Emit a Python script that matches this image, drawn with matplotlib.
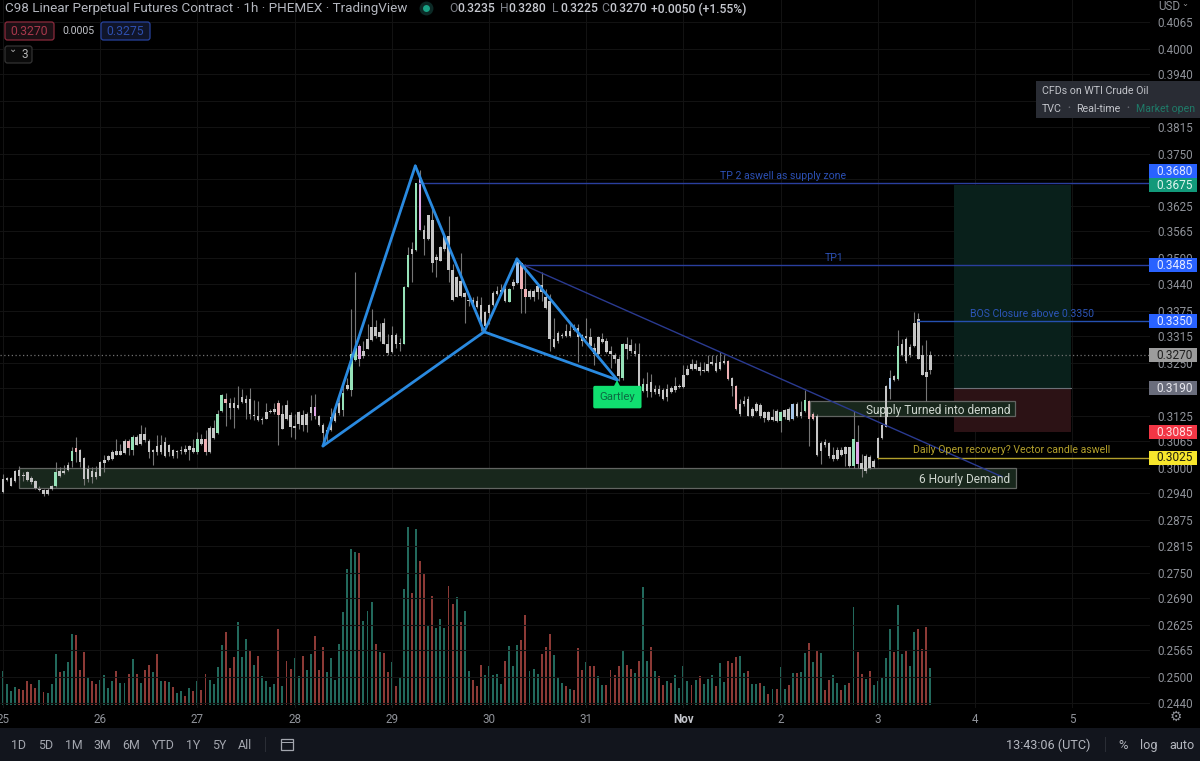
import matplotlib
matplotlib.use("Agg")
import matplotlib.pyplot as plt
from matplotlib.patches import Rectangle, FancyBboxPatch
from matplotlib.transforms import IdentityTransform
import numpy as np

plt.rcParams['font.family'] = ['Roboto', 'DejaVu Sans']

TICK = 0.0001  # candle values below are quoted in price ticks

body_top = [
 2974,2976,2976,2994,2996,2984,2990,2976,2970,2950, 2948,2948,2958,2990,2994,2994,3008,3040,3048,3042,
 3024,2998,2994,2990,3014,3020,3028,3038,3040,3040, 3064,3064,3074,3074,3080,3080,3064,3044,3052,3054,
 3062,3054,3044,3041,3044,3045,3053,3048,3070,3070, 3070,3096,3096,3128,3174,3164,3155,3154,3150,3170,
 3164,3164,3126,3124,3118,3134,3137,3140,3156,3130, 3150,3126,3100,3134,3126,3128,3146,3146,3124,3103,
 3091,3121,3131,3155,3179,3197,3271,3287,3291,3279, 3307,3337,3337,3325,3347,3297,3317,3317,3299,3433,
 3509,3523,3679,3689,3567,3603,3593,3503,3527,3553, 3553,3473,3457,3447,3417,3401,3401,3399,3389,3373,
 3389,3417,3423,3425,3427,3427,3445,3491,3489,3427, 3423,3423,3435,3437,3407,3399,3307,3323,3317,3327,
 3327,3335,3333,3317,3314,3313,3287,3313,3307,3303, 3279,3269,3261,3297,3297,3293,3279,3271,3201,3201,
 3205,3189,3189,3187,3189,3191,3195,3196,3223,3237, 3249,3249,3241,3235,3249,3252,3251,3253,3255,3255,
 3215,3195,3153,3161,3165,3141,3153,3151,3133,3133, 3121,3137,3133,3139,3141,3153,3153,3133,3163,3161,
 3129,3125,3059,3063,3059,3031,3043,3043,3049,3049, 3069,3063,3013,3029,3027,3017,3071,3103,3195,3215,
 3219,3291,3297,3309,3289,3345,3355,3269,3229,3270]
body_bot = [
 2942,2972,2958,2968,2982,2980,2972,2966,2952,2948, 2938,2938,2950,2956,2982,2988,2996,3016,3038,3014,
 2974,2974,2978,2978,2982,3012,3020,3022,3032,3032, 3036,3048,3042,3056,3058,3068,3038,3038,3038,3038,
 3028,3038,3028,3038,3040,3038,3042,3038,3038,3058, 3038,3038,3072,3084,3136,3154,3144,3144,3144,3158,
 3154,3128,3124,3114,3114,3118,3134,3134,3126,3094, 3116,3098,3096,3106,3102,3102,3132,3124,3102,3083,
 3085,3091,3113,3131,3139,3189,3185,3257,3261,3267, 3285,3305,3315,3313,3297,3275,3277,3297,3295,3297,
 3433,3511,3521,3569,3547,3547,3489,3497,3495,3523, 3473,3401,3409,3411,3407,3399,3389,3385,3343,3339,
 3369,3389,3415,3421,3399,3397,3435,3441,3427,3409, 3409,3409,3421,3419,3381,3307,3289,3303,3314,3315,
 3315,3329,3313,3303,3311,3291,3271,3271,3301,3277, 3271,3259,3219,3215,3283,3279,3271,3189,3183,3183,
 3181,3181,3177,3165,3169,3181,3185,3193,3193,3223, 3237,3237,3231,3231,3231,3249,3231,3237,3251,3213,
 3195,3141,3129,3153,3125,3125,3137,3123,3119,3115, 3115,3113,3113,3121,3115,3117,3125,3123,3137,3117,
 3117,3031,3041,3055,3029,3021,3021,3031,3033,3005, 3005,3009,2997,2993,3001,3003,3023,3071,3099,3189,
 3209,3213,3269,3255,3269,3291,3261,3223,3217,3235]
high = [
 2986,2978,2978,2996,3004,2990,2994,2982,2972,2958, 2950,2952,2960,3014,3002,3006,3014,3050,3074,3046,
 3026,3006,3002,3004,3016,3030,3030,3042,3070,3058, 3070,3070,3078,3078,3102,3098,3070,3046,3078,3078,
 3074,3058,3046,3042,3052,3054,3054,3070,3086,3082, 3090,3100,3114,3138,3176,3180,3166,3170,3196,3188,
 3174,3190,3162,3160,3122,3154,3140,3154,3162,3150, 3162,3134,3130,3136,3138,3134,3174,3176,3126,3107,
 3099,3143,3143,3171,3207,3215,3379,3467,3295,3303, 3343,3379,3353,3347,3359,3319,3339,3323,3311,3435,
 3527,3539,3681,3711,3579,3605,3627,3511,3529,3555, 3601,3487,3459,3513,3419,3407,3407,3411,3407,3375,
 3391,3423,3435,3439,3443,3429,3451,3493,3491,3487, 3427,3427,3439,3467,3427,3415,3359,3327,3323,3343,
 3343,3343,3343,3319,3359,3335,3299,3315,3323,3311, 3291,3275,3267,3299,3313,3307,3299,3299,3215,3229,
 3225,3197,3197,3191,3201,3195,3217,3201,3245,3245, 3261,3257,3253,3253,3269,3269,3269,3277,3269,3257,
 3217,3197,3165,3173,3173,3145,3157,3155,3137,3137, 3141,3141,3137,3141,3145,3155,3157,3161,3187,3163,
 3133,3129,3065,3069,3061,3049,3049,3049,3053,3051, 3137,3103,3033,3033,3031,3021,3073,3105,3197,3233,
 3221,3329,3309,3313,3297,3373,3369,3293,3305,3280]
low = [
 2940,2970,2956,2966,2972,2970,2970,2962,2950,2944, 2934,2936,2948,2954,2978,2986,2994,3002,3014,3002,
 2960,2966,2964,2974,2980,2990,3016,3018,3030,3030, 3034,3030,3030,3054,3054,3062,3024,3006,3030,3034,
 3026,3028,3024,3024,3034,3034,3020,3036,3034,3054, 3030,3035,3070,3082,3134,3100,3118,3096,3142,3154,
 3116,3118,3114,3112,3106,3116,3132,3130,3054,3092, 3114,3074,3070,3094,3088,3086,3114,3118,3100,3055,
 3063,3089,3109,3127,3123,3187,3171,3255,3243,3263, 3283,3303,3311,3303,3295,3269,3275,3287,3279,3295,
 3431,3443,3519,3567,3509,3545,3467,3455,3493,3519, 3443,3399,3407,3407,3347,3387,3383,3383,3327,3335,
 3343,3387,3413,3413,3397,3395,3427,3439,3369,3369, 3403,3399,3403,3399,3379,3279,3287,3299,3311,3313,
 3313,3327,3253,3291,3307,3287,3247,3267,3299,3275, 3239,3251,3207,3211,3259,3275,3267,3187,3181,3169,
 3169,3177,3173,3163,3161,3179,3181,3191,3191,3221, 3235,3233,3221,3229,3229,3245,3229,3235,3249,3211,
 3173,3139,3125,3149,3123,3121,3133,3119,3109,3111, 3111,3109,3087,3117,3111,3115,3121,3119,3133,3053,
 3115,3029,3009,3049,3025,3017,3019,3029,3005,3003, 3001,3001,2979,2989,2997,3001,3021,3069,3097,3165,
 3207,3211,3267,3251,3265,3289,3259,3221,3161,3225]
volume = [
 101,62,42,55,47,44,73,62,51,76, 40,36,64,153,98,101,130,213,209,105,
 160,82,71,62,75,91,52,71,101,66, 66,94,138,94,67,105,120,98,153,71,
 71,68,54,35,41,27,50,42,71,45, 94,75,62,115,180,219,111,143,249,143,
 199,165,120,148,86,71,54,64,227,57, 133,109,140,88,148,105,153,207,105,175,
 98,140,76,182,278,407,468,459,456,251, 281,308,182,160,157,100,130,57,83,347,
 533,335,528,432,395,240,327,230,259,232, 357,303,325,249,283,103,74,58,121,91,
 116,91,94,64,133,177,118,180,194,269, 103,107,94,153,174,212,150,83,66,57,
 47,44,170,105,130,118,116,88,60,59, 105,91,118,163,120,108,96,133,355,133,
 173,103,88,59,73,66,91,52,116,73, 59,75,86,64,78,91,57,127,69,131,
 127,143,148,96,101,64,64,66,57,32, 47,47,113,49,59,96,96,98,155,185,
 130,163,155,44,74,91,66,44,59,67, 294,158,94,78,101,59,71,84,140,227,
 160,299,153,163,116,219,227,168,235,111]
volume_dir = ("ggggrrrrrg" "rgggrgggrr" "rgrrggggrg" "grgrgrrgrg" "rgrggrgrgr" "rggggrrrgg"
              "grgrggggrg" "rrggrggrrr" "ggggggggrg" "ggrgrrgrgg" "grgrrgrggg" "rrgrggrrrg"
              "ggggrgggrr" "gggrrrgggr" "grrrgrrggr" "rrrgrrgrgg" "rgrrgrgggg" "rgrgggrggr"
              "rrggrggrgr" "grggrgrggr" "grgrrggrgr" "grrgrggggg" "rggrggrrrg")

green_candles = [13,17,32,48,53,54,84,86,87,99,100,102,125,153,158,192,198,210,221]
pink_candles = [18,31,50,55,68,128,129,179,181,199,200]
violet_candles = [77,88,103,211]
blue_candles = [127,195,219]

price_ticks = [0.4065,0.4000,0.3940,0.3875,0.3815,0.3750,0.3690,0.3625,0.3565,0.3500,0.3440,
               0.3375,0.3315,0.3250,0.3190,0.3125,0.3065,0.3000,0.2940,0.2875,0.2815,0.2750,
               0.2690,0.2625,0.2565,0.2500,0.2440]
day_labels = ['25','26','27','28','29','30','31','Nov','2','3','4','5']
day_hours = [0,24,48,72,96,120,144,168,192,216,240,264]

# harmonic pattern pivots
pattern_hours = [79.0,101.8,118.8,126.9,151.7]
pattern_prices = [0.30525,0.3721,0.3325,0.3499,0.3210]
trend_hours = [128.4,246.7]
trend_prices = [0.3485,0.2979]

levels = [0.3680,0.3485,0.3350,0.3025]
level_starts = [102.8,128.5,226,216]
level_colors = ['#2a3f9e','#2a3f9e','#2550b0','#b3a02c']
level_notes = ['TP 2 aswell as supply zone','TP1','BOS Closure above 0.3350','Daily Open recovery? Vector candle aswell']
note_hours = [192.6,205.3,254.1,249.0]
note_colors = ['#2c50b4','#2c50b4','#2c55b8','#b3a02c']

demand_zone = (4,250,0.2952,0.3000)
supply_zone = (199.3,250,0.3124,0.3160)
entry, target, stop = 0.3190,0.3675,0.3085
pos_hours = (234.8,263.6)

tag_prices = [0.3680,0.3675,0.3485,0.3350,0.3270,0.3190,0.3085,0.3025]
tag_bg = ['#2962ff','#12997a','#2962ff','#2962ff','#9c9c9c','#6a6d7c','#f23645','#f7e62c']
tag_fg = ['#dfe6ff','#dff5ee','#e4eaff','#e4eaff','#202020','#e8e8ee','#ffdfe2','#202010']
tag_shift = [12,0,0,0,0,0,0,0]

W, H = 1200, 761
fig = plt.figure(figsize=(W/100, H/100), dpi=100, facecolor='#000000')
rect = [0, 1-708/H, 1150/W, 708/H]
xlim = (-3/4.05, 1147/4.05)
volax = fig.add_axes(rect, zorder=1, facecolor='#000000')
ax = fig.add_axes(rect, zorder=2, facecolor='none')
ax.set_xlim(*xlim)
ax.set_ylim(0.3-240/4190, 0.3+468/4190)
volax.set_xlim(*xlim)
volax.set_ylim(-9, 2115)
volax.axis('off')

for s in ax.spines.values():
    s.set_visible(False)
ax.set_axisbelow(True)
ax.yaxis.tick_right()
ax.set_yticks(price_ticks, [f'{p:.4f}' for p in price_ticks])
ax.set_xticks(day_hours, day_labels)
ax.tick_params(axis='both', length=0, colors='#8f9299', labelsize=8.4)
ax.tick_params(axis='y', pad=5)
ax.tick_params(axis='x', pad=3.5, labelsize=8.4)
for lab in ax.get_xticklabels():
    if lab.get_text() == 'Nov':
        lab.set_color('#c4c6cc')
        lab.set_fontweight('bold')
ax.grid(True, color='#121212', lw=0.8)

hours = np.arange(len(volume))
vcol = ['#22695c' if d == 'g' else '#8c3a36' for d in volume_dir]
volax.bar(hours, volume, width=0.47, color=vcol, linewidth=0)

# zones
GREENZ = '#18271c'
for (x0, x1, lo, hi), txt in ((demand_zone, '6 Hourly Demand'), (supply_zone, 'Supply Turned into demand')):
    ax.add_patch(Rectangle((x0, lo), x1-x0, hi-lo, fc=GREENZ, ec='#626562', lw=0.9, zorder=1.2))
    ax.text(x1-1.3, (lo+hi)/2, txt, color='#cfd6cf', fontsize=8.6, ha='right', va='center_baseline', zorder=6)

# position box
ax.add_patch(Rectangle((pos_hours[0], entry), pos_hours[1]-pos_hours[0], target-entry, fc='#09201b', ec='none', zorder=1))
ax.add_patch(Rectangle((pos_hours[0], stop), pos_hours[1]-pos_hours[0], entry-stop, fc='#2c1215', ec='none', zorder=1))
ax.plot(pos_hours, [entry, entry], color='#6d7078', lw=0.8, zorder=1.5)

# candles
ccol = ['#c6c6c6']*len(volume)
for idx, c in ((green_candles,'#96e2b8'),(pink_candles,'#eeb0b4'),(violet_candles,'#dfa6e6'),(blue_candles,'#a6c6ea')):
    for i in idx:
        ccol[i] = c
ht = np.array(high)*TICK; lt = np.array(low)*TICK
bt = np.array(body_top)*TICK; bb = np.array(body_bot)*TICK
ax.vlines(hours, lt, ht, colors='#767676', lw=0.8, zorder=2)
ax.bar(hours, np.maximum(bt-bb, 0.0002), bottom=bb, width=0.62, color=ccol, linewidth=0, zorder=3)

# last price dotted line
ax.axhline(0.3270, color='#707070', lw=0.9, ls=(0,(1,2)), zorder=1.6)

# levels
for lv, st, col, note, nh, nc in zip(levels, level_starts, level_colors, level_notes, note_hours, note_colors):
    ax.plot([st, xlim[1]], [lv, lv], color=col, lw=1.0, zorder=4)
    ax.annotate(note, xy=(nh, lv), xytext=(0, 1.6), textcoords='offset points', ha='center', va='bottom',
                color=nc, fontsize=7.6, zorder=6)

# trend line & pattern
ax.plot(trend_hours, trend_prices, color='#2a3a90', lw=1.0, zorder=4.5)
px = pattern_hours; py = pattern_prices
for a, b in ((0,1),(1,2),(2,3),(3,4),(0,2),(2,4)):
    ax.plot([px[a],px[b]], [py[a],py[b]], color='#2a8ae0', lw=2.0, zorder=5, solid_capstyle='round')

# Gartley label
ax.plot([px[4]], [py[4]-0.0012], marker='^', ms=7, color='#10e070', mew=0, zorder=5.5)
ax.annotate('Gartley', xy=(px[4], py[4]), xytext=(0, -12.3), textcoords='offset points', ha='center', va='center',
            color='#0c6a42', fontsize=8.2, zorder=6,
            bbox=dict(boxstyle='round,pad=0.55,rounding_size=0.15', fc='#10e070', ec='none'))

# figure-level chrome
ID = IdentityTransform()
def ptext(x, y, s, **kw):
    kw.setdefault('va', 'center'); kw.setdefault('ha', 'left'); kw.setdefault('zorder', 20)
    return fig.text(x/W, 1-y/H, s, **kw)
def prect(x0, y0, x1, y1, **kw):
    kw.setdefault('zorder', 15)
    r = Rectangle((x0, H-y1), x1-x0, y1-y0, transform=ID, **kw)
    fig.add_artist(r); return r
def proundrect(x0, y0, x1, y1, fc, ec):
    r = FancyBboxPatch((x0, H-y1), x1-x0, y1-y0, boxstyle='round,pad=0,rounding_size=2.5', fc=fc, ec=ec, lw=0.9,
                       transform=ID, zorder=15)
    fig.add_artist(r)

# price tags
for p, bg, fg, sh in zip(tag_prices, tag_bg, tag_fg, tag_shift):
    yc = ax.transData.transform((0, p))[1] + sh
    ym = H - yc
    prect(1149, ym-7, 1197, ym+7, fc=bg, ec='none')
    ptext(1174.5, ym+0.3, f'{p:.4f}', color=fg, fontsize=8.6, ha='center')

# header
ptext(5, 8.5, 'C98 Linear Perpetual Futures Contract · 1h · PHEMEX · TradingView', color='#b4b7bf', fontsize=9.7)
fig.add_artist(plt.Line2D([426/W],[1-8/H], marker='o', ms=10, color='#0c2a26', mew=0, zorder=15))
fig.add_artist(plt.Line2D([426/W],[1-8/H], marker='o', ms=5, color='#19a386', mew=0, zorder=16))
for x, k, v in ((449,'O','0.3235'),(500,'H','0.3280'),(552,'L','0.3225'),(601,'C','0.3270')):
    ptext(x, 9, k, color='#7f828a', fontsize=8.7)
    ptext(x+8, 9, v, color='#c6c8cf', fontsize=8.7, fontweight='medium')
ptext(651, 9, '+0.0050 (+1.55%)', color='#c6c8cf', fontsize=8.7, fontweight='medium')

proundrect(5, 22, 54, 40, '#1c1015', '#8a2a3c')
ptext(29.5, 31.5, '0.3270', color='#a8384c', fontsize=8.8, ha='center')
ptext(62, 31.5, '0.0005', color='#c2c4ca', fontsize=7.6)
proundrect(101, 22, 150, 40, '#10152a', '#27429e')
ptext(125.5, 31.5, '0.3275', color='#2e4fae', fontsize=8.8, ha='center')
proundrect(5, 46, 32, 63, '#0a0a0a', '#333333')
ptext(13, 54.5, '⌄', color='#b0b0b0', fontsize=7, ha='center', va='bottom', family=['DejaVu Sans'])
ptext(25, 55, '3', color='#b4b4b4', fontsize=8.6, ha='center')

ptext(1158, 6, 'USD', color='#8f9299', fontsize=8.4)
ptext(1181, 4, '⌄', color='#9a9a9a', fontsize=6, family=['DejaVu Sans'])

# tooltip
prect(1036, 81, 1200, 118, fc='#292c34', ec='none', zorder=17)
ptext(1042, 90.5, 'CFDs on WTI Crude Oil', color='#c2c4ca', fontsize=7.7)
ptext(1042, 108.5, 'TVC', color='#c2c4ca', fontsize=7.7)
ptext(1069, 108.5, '•', color='#6a6c74', fontsize=6, ha='center')
ptext(1076, 108.5, 'Real-time', color='#c2c4ca', fontsize=7.7)
ptext(1128, 108.5, '•', color='#6a6c74', fontsize=6, ha='center')
ptext(1136, 108.5, 'Market open', color='#1f7a68', fontsize=7.6)

# bottom toolbar
prect(0, 728, W, H, fc='#12151d', ec='none', zorder=12)
for x, s in ((19,'1D'),(46,'5D'),(74,'1M'),(102,'3M'),(131,'6M'),(163,'YTD'),(193,'1Y'),(219,'5Y'),(245,'All')):
    ptext(x, 745.5, s, color='#a3a6ae', fontsize=8.9, ha='center')
prect(265, 737, 266, 752, fc='#2a2d35', ec='none')
prect(281, 739, 293, 750, fc='none', ec='#a3a6ae', lw=0.9)
prect(281, 742, 293, 743, fc='#a3a6ae', ec='none')
ptext(1048.5, 745.5, '13:43:06 (UTC)', color='#b4b7bf', fontsize=9.1, ha='center')
prect(1105, 737, 1106, 752, fc='#2a2d35', ec='none')
ptext(1123, 745.5, '%', color='#b4b7bf', fontsize=9.4, ha='center')
ptext(1149, 745.5, 'log', color='#b4b7bf', fontsize=9.1, ha='center')
ptext(1182, 745.5, 'auto', color='#b4b7bf', fontsize=9.1, ha='center')
ptext(1176, 716.5, '⚙', color='#8f9299', fontsize=10, ha='center', family=['DejaVu Sans'])

fig.savefig('out.png', dpi=100, facecolor='#000000')
